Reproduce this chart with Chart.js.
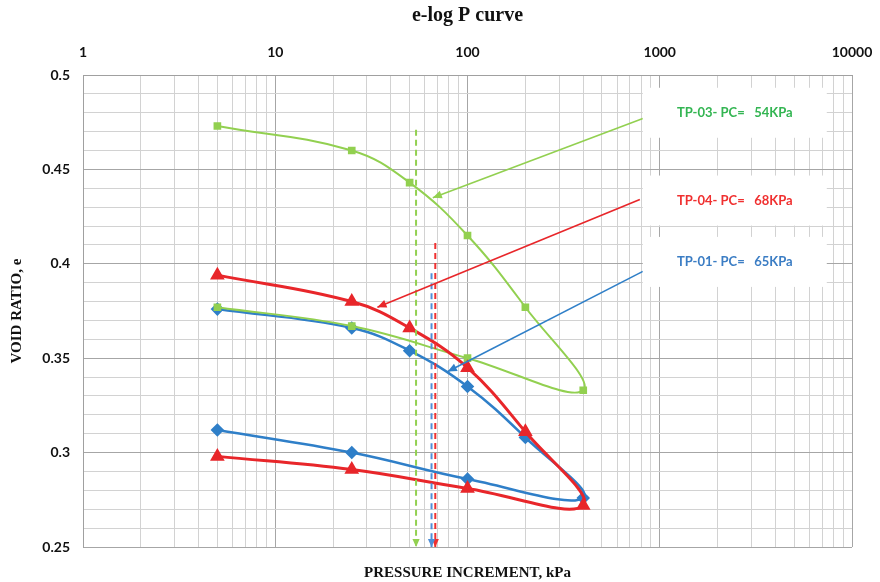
<!DOCTYPE html>
<html>
<head>
<meta charset="utf-8">
<script src="https://cdn.jsdelivr.net/npm/chart.js@4.4.1/dist/chart.umd.min.js"></script>
<style>
  html, body { margin: 0; padding: 0; background: #fff; }
  #wrap { width: 880px; height: 582px; position: relative; }
</style>
</head>
<body>
<div id="wrap"><canvas id="elogChart"></canvas></div>
<script>
// log axis ticks
const decades = [1, 10, 100, 1000, 10000];
const minorSteps = [1, 2, 3, 4, 5, 6, 7, 8, 9];
const yLabels = [0.25, 0.3, 0.35, 0.4, 0.45, 0.5];

// loading 5 -> 400 kPa then unloading back to 5 kPa
const pressure = [5, 25, 50, 100, 200, 400, 100, 25, 5];
const tp01 = [0.376, 0.366, 0.354, 0.335, 0.308, 0.276, 0.286, 0.300, 0.312];
const tp03 = [0.473, 0.460, 0.443, 0.415, 0.377, 0.333, 0.350, 0.367, 0.377];
const tp04 = [0.394, 0.380, 0.366, 0.345, 0.311, 0.272, 0.281, 0.291, 0.298];

// preconsolidation pressure markers
const pcNames = ['TP-03', 'TP-04', 'TP-01'];
const pcValues = [54, 68, 65];
const pcTops = [0.471, 0.411, 0.395];

// label pointers (start near label box, end on curve)
const pointerFrom = [[817, 0.477], [788, 0.434], [817, 0.396]];
const pointerTo = [[66, 0.435], [34, 0.377], [79, 0.343]];
const labelAt = [[2456, 0.480], [2456, 0.4335], [2456, 0.401]];

const colors = {
  'TP-01': '#2f7fc8',
  'TP-03': '#92d050',
  'TP-04': '#e8262a'
};
const textColors = {
  'TP-01': '#3b7dc4',
  'TP-03': '#33b552',
  'TP-04': '#f03030'
};
const dashColors = {
  'TP-01': '#4f8fd8',
  'TP-03': '#92d050',
  'TP-04': '#f03030'
};

const toPoints = (ys) => pressure.map((p, i) => ({ x: p, y: ys[i] }));

const datasets = [];

// pointers on top
pcNames.forEach((name, i) => {
  datasets.push({
    data: [
      { x: pointerFrom[i][0], y: pointerFrom[i][1] },
      { x: pointerTo[i][0], y: pointerTo[i][1] }
    ],
    borderColor: colors[name],
    backgroundColor: colors[name],
    borderWidth: 1.6,
    pointRadius: 0,
    tension: 0,
    arrowHead: 9
  });
});

// Pc dashed lines
pcNames.forEach((name, i) => {
  datasets.push({
    data: [{ x: pcValues[i], y: pcTops[i] }, { x: pcValues[i], y: 0.25 }],
    borderColor: dashColors[name],
    backgroundColor: dashColors[name],
    borderWidth: 2,
    borderDash: [6, 4],
    pointRadius: 0,
    tension: 0,
    arrowHead: 8
  });
});

datasets.push({
  label: 'TP-04',
  data: toPoints(tp04),
  borderColor: colors['TP-04'],
  backgroundColor: colors['TP-04'],
  borderWidth: 3,
  pointStyle: 'triangle',
  pointRadius: 5.5,
  tension: 0.4
});
datasets.push({
  label: 'TP-03',
  data: toPoints(tp03),
  borderColor: colors['TP-03'],
  backgroundColor: colors['TP-03'],
  borderWidth: 2,
  pointStyle: 'rect',
  pointRadius: 4,
  tension: 0.4
});
datasets.push({
  label: 'TP-01',
  data: toPoints(tp01),
  borderColor: colors['TP-01'],
  backgroundColor: colors['TP-01'],
  borderWidth: 2.5,
  pointStyle: 'rectRot',
  pointRadius: 5,
  tension: 0.4
});

// arrow heads + label boxes
const extrasPlugin = {
  id: 'extras',
  afterDatasetsDraw(chart) {
    const ctx = chart.ctx;
    const xs = chart.scales.x, ys = chart.scales.y;

    chart.data.datasets.forEach((ds, i) => {
      if (!ds.arrowHead) return;
      const pts = chart.getDatasetMeta(i).data;
      const a = pts[pts.length - 2], b = pts[pts.length - 1];
      const ang = Math.atan2(b.y - a.y, b.x - a.x);
      const len = ds.arrowHead, half = len * 0.45;
      ctx.save();
      ctx.fillStyle = ds.borderColor;
      ctx.beginPath();
      ctx.moveTo(b.x, b.y);
      ctx.lineTo(b.x - len * Math.cos(ang) + half * Math.sin(ang), b.y - len * Math.sin(ang) - half * Math.cos(ang));
      ctx.lineTo(b.x - len * Math.cos(ang) - half * Math.sin(ang), b.y - len * Math.sin(ang) + half * Math.cos(ang));
      ctx.closePath();
      ctx.fill();
      ctx.restore();
    });

    pcNames.forEach((name, i) => {
      const cx = xs.getPixelForValue(labelAt[i][0]);
      const cy = ys.getPixelForValue(labelAt[i][1]);
      ctx.save();
      ctx.fillStyle = '#ffffff';
      ctx.fillRect(cx - 92, cy - 25, 184, 50);
      ctx.font = 'bold 13px Lato';
      ctx.fillStyle = textColors[name];
      ctx.textAlign = 'center';
      ctx.textBaseline = 'middle';
      ctx.fillText(name + '- PC=   ' + pcValues[i] + 'KPa', cx, cy);
      ctx.restore();
    });
  }
};

const gridMajor = '#a6a6a6';
const gridMinor = '#d2d2d2';

new Chart(document.getElementById('elogChart'), {
  type: 'line',
  data: { datasets },
  plugins: [extrasPlugin],
  options: {
    responsive: true,
    maintainAspectRatio: false,
    animation: false,
    layout: { padding: { left: 0, right: 28, top: 0, bottom: 0 } },
    plugins: {
      legend: { display: false },
      tooltip: { enabled: false },
      title: {
        display: true,
        fullSize: false,
        text: 'e-log P curve',
        color: '#111',
        font: { family: 'Liberation Serif', size: 20, weight: 'bold' },
        padding: { top: 4, bottom: 6 }
      }
    },
    scales: {
      x: {
        type: 'logarithmic',
        position: 'top',
        min: 1,
        max: 10000,
        afterBuildTicks(scale) {
          const ticks = [];
          decades.forEach((d, i) => {
            if (i === decades.length - 1) { ticks.push({ value: d }); return; }
            minorSteps.forEach(m => ticks.push({ value: d * m }));
          });
          scale.ticks = ticks;
        },
        afterFit(scale) {
          scale.height = 41;
          scale.paddingLeft = 0;
          scale.paddingRight = 0;
        },
        grid: {
          drawTicks: false,
          color: (c) => (c.tick && decades.includes(c.tick.value)) ? gridMajor : gridMinor
        },
        border: { color: '#a0a0a0' },
        ticks: {
          autoSkip: false,
          maxRotation: 0,
          padding: 14,
          color: '#111',
          font: { family: 'Lato', size: 14, weight: 'bold' },
          callback: (v) => decades.includes(v) ? String(v) : ''
        }
      },
      x2: {
        type: 'linear',
        position: 'bottom',
        min: 0,
        max: 1,
        afterFit(scale) { scale.height = 35; },
        grid: { display: false, drawOnChartArea: false },
        border: { display: false },
        ticks: { display: false },
        title: {
          display: true,
          text: 'PRESSURE INCREMENT, kPa',
          color: '#111',
          font: { family: 'Liberation Serif', size: 15, weight: 'bold' },
          padding: { top: 14, bottom: 0 }
        }
      },
      y: {
        min: 0.25,
        max: 0.5,
        afterFit(scale) { scale.width = 83; },
        grid: {
          drawTicks: false,
          color: (c) => (c.tick && Math.round(c.tick.value * 100) % 5 === 0) ? gridMajor : gridMinor
        },
        border: { color: '#a0a0a0' },
        ticks: {
          stepSize: 0.01,
          autoSkip: false,
          padding: 13,
          color: '#111',
          font: { family: 'Lato', size: 14, weight: 'bold' },
          callback: (v) => {
            const r = Number(v.toFixed(2));
            return yLabels.includes(r) ? String(r) : '';
          }
        },
        title: {
          display: true,
          text: 'VOID RATIO, e',
          color: '#111',
          font: { family: 'Liberation Serif', size: 15, weight: 'bold' },
          padding: { top: 8, bottom: 0 }
        }
      }
    }
  }
});
</script>
</body>
</html>
